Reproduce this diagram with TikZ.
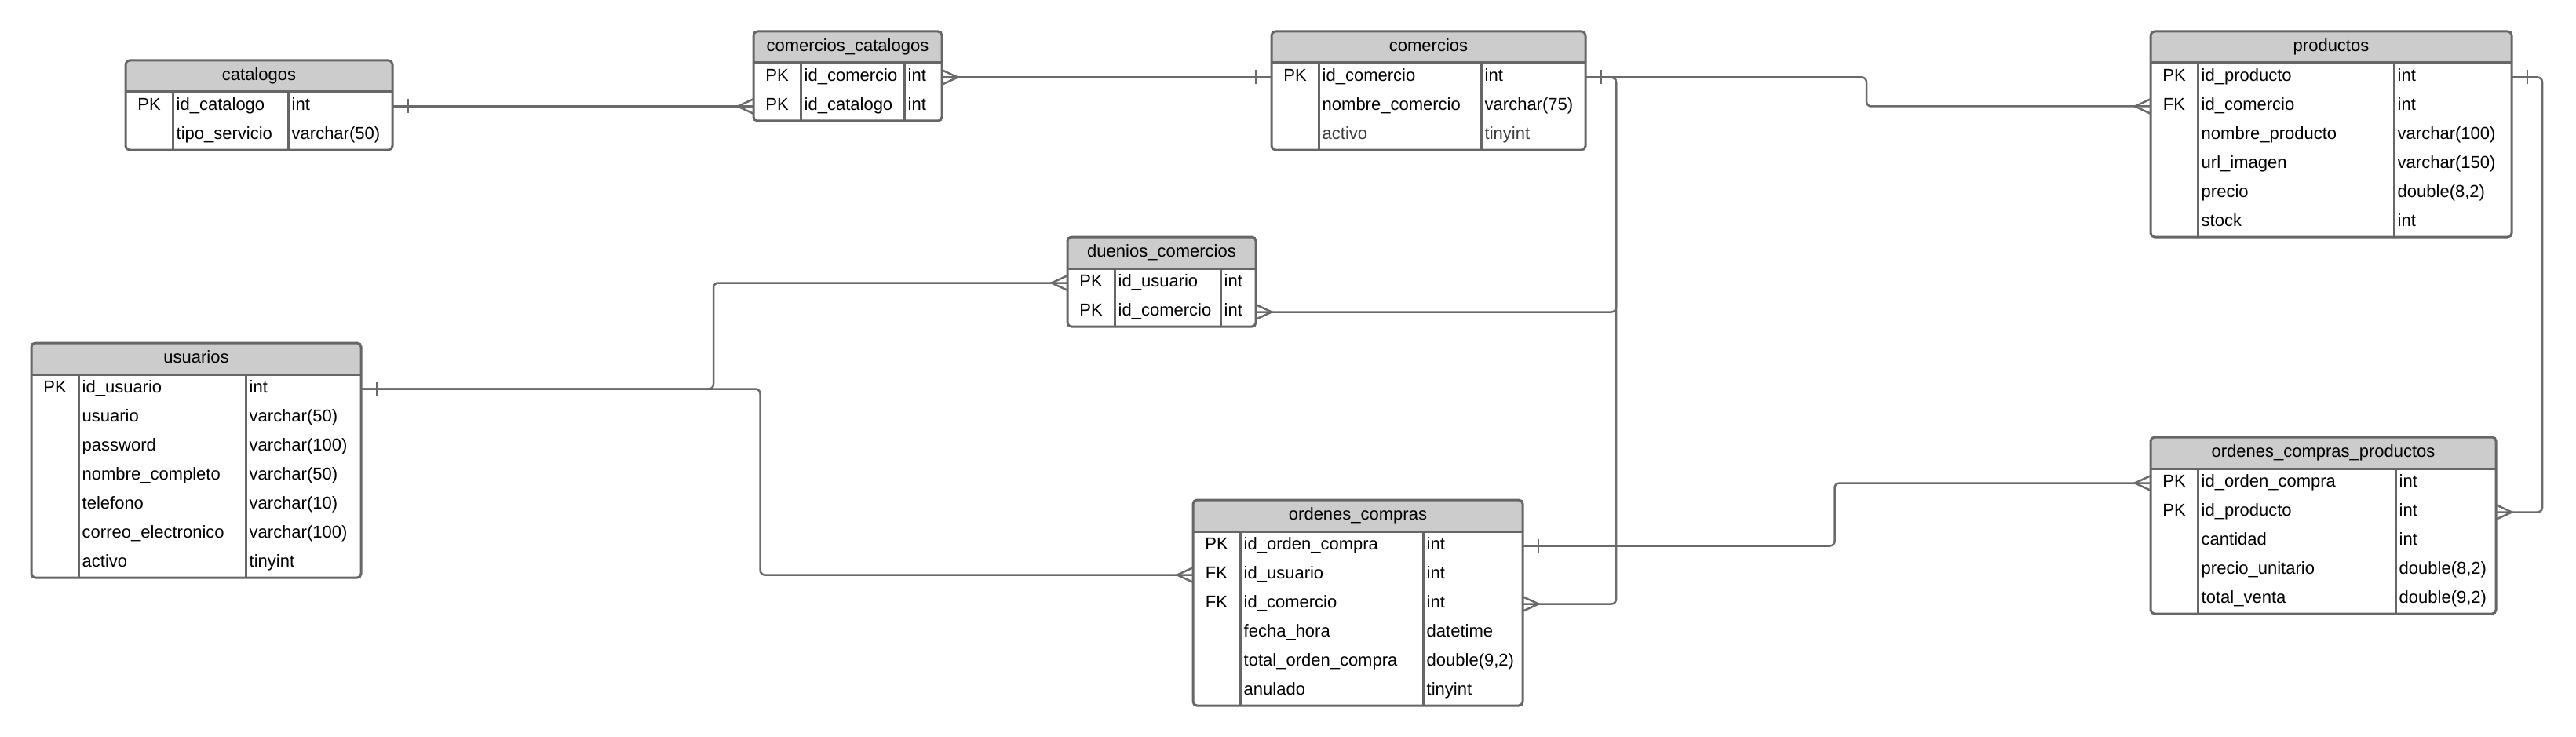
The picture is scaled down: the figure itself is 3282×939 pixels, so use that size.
\documentclass[tikz,border=0pt]{standalone}
\usepackage{fontspec}
\setmainfont{Liberation Sans}
\usetikzlibrary{calc}
\definecolor{edgec}{HTML}{666666}
\definecolor{headc}{HTML}{CCCCCC}
\definecolor{linec}{HTML}{6A6A6A}
\definecolor{dimc}{HTML}{3C3C3C}
\tikzset{
  txt/.style={inner sep=0pt, text height=15.5pt, text depth=4.6pt, font=\fontsize{22}{26}\selectfont, text=black},
  tblframe/.style={draw=edgec, line width=3pt, rounded corners=5pt, inner sep=0pt},
  tblline/.style={draw=edgec, line width=3pt},
  rowbox/.style={inner sep=0pt, minimum height=37pt},
  conn/.style={draw=linec, line width=2.5pt, rounded corners=6pt},
  tickline/.style={draw=linec, line width=2.5pt},
}
% #1 name, #2 xl, #3 xr, #4 top, #5 c1, #6 c2, #7 rows count, #8 title, #9 rows
\newcommand{\erd}[9]{%
  \pgfmathsetmacro{\tbhb}{#4+40}%
  \pgfmathsetmacro{\tbbt}{#4+40+37*#7}%
  \pgfmathsetmacro{\tbxm}{(#2+#3)/2}%
  \pgfmathsetmacro{\tbym}{(#4+\tbbt)/2}%
  \pgfmathsetmacro{\tbhm}{#4+20}%
  \pgfmathsetmacro{\tbw}{#3-#2}%
  \pgfmathsetmacro{\tbh}{\tbbt-#4}%
  \pgfmathsetmacro{\tbkx}{(#2+#5)/2}%
  \begin{scope}
    \clip[rounded corners=5pt] (#2,#4) rectangle (#3,\tbbt);
    \fill[white] (#2,#4) rectangle (#3,\tbbt);
    \fill[headc] (#2,#4) rectangle (#3,\tbhb);
  \end{scope}
  \draw[tblline] (#2,\tbhb) -- (#3,\tbhb);
  \draw[tblline] (#5,\tbhb) -- (#5,\tbbt);
  \draw[tblline] (#6,\tbhb) -- (#6,\tbbt);
  \node[tblframe, minimum width=\tbw pt, minimum height=\tbh pt] (#1) at (\tbxm,\tbym) {};
  \node[txt] (#1-title) at (\tbxm,\tbhm) {#8};
  \foreach \fk/\fn/\ft [count=\i] in {#9} {
    \pgfmathsetmacro{\tbyc}{#4+40+37*(\i-1)+18.5}
    \node[rowbox, minimum width=\tbw pt] (#1-\i) at (\tbxm,\tbyc) {};
    \node[txt] (#1-\i-key) at (\tbkx,\tbyc) {\fk};
    \node[txt, anchor=west] (#1-\i-name) at (#5+4.5,\tbyc) {\fn};
    \node[txt, anchor=west] (#1-\i-type) at (#6+4.5,\tbyc) {\ft};
  }
}
\newcommand{\onemk}[2]{\draw[tickline] ($(#1)+(#2*20,-9)$) -- ($(#1)+(#2*20,9)$);}
\newcommand{\manymk}[2]{\draw[tickline] ($(#1)+(0,-9.2)$) -- ($(#1)+(#2*20,0)$) -- ($(#1)+(0,9.2)$);}
\begin{document}
\begin{tikzpicture}[x=1pt,y=-1pt]
\useasboundingbox (0,0) rectangle (3282,939);
\fill[white] (0,0) rectangle (3282,939);

% bend coordinates
\coordinate (j3) at (2378,0);
\coordinate (j4) at (2059,0);
\coordinate (j6) at (909,0);
\coordinate (j7) at (968.5,0);
\coordinate (j8) at (2337.5,0);
\coordinate (j9) at (3239,0);

\erd{catalogos}{160}{500}{77}{220}{367}{2}{catalogos}{PK/id\_catalogo/int, {}/tipo\_servicio/varchar(50)}
\erd{cc}{960}{1200}{40}{1020}{1152}{2}{comercios\_catalogos}{PK/id\_comercio/int, PK/id\_catalogo/int}
\erd{comercios}{1620}{2020}{40}{1680}{1887}{3}{comercios}{PK/id\_comercio/int, {}/nombre\_comercio/varchar(75), {}/\textcolor{dimc}{activo}/\textcolor{dimc}{tinyint}}
\erd{productos}{2740}{3200}{40}{2800}{3050}{6}{productos}{PK/id\_producto/int, FK/id\_comercio/int, {}/nombre\_producto/varchar(100), {}/url\_imagen/varchar(150), {}/precio/{double(8,2)}, {}/stock/int}
\erd{dc}{1360}{1600}{302}{1420}{1555}{2}{duenios\_comercios}{PK/id\_usuario/int, PK/id\_comercio/int}
\erd{usuarios}{40}{460}{437}{100}{313}{7}{usuarios}{PK/id\_usuario/int, {}/usuario/varchar(50), {}/password/varchar(100), {}/nombre\_completo/varchar(50), {}/telefono/varchar(10), {}/correo\_electronico/varchar(100), {}/activo/tinyint}
\erd{oc}{1520}{1940}{637}{1580}{1813}{6}{ordenes\_compras}{PK/id\_orden\_compra/int, FK/id\_usuario/int, FK/id\_comercio/int, {}/fecha\_hora/datetime, {}/total\_orden\_compra/{double(9,2)}, {}/anulado/tinyint}
\erd{ocp}{2740}{3180}{557}{2800}{3052}{5}{ordenes\_compras\_productos}{PK/id\_orden\_compra/int, PK/id\_producto/int, {}/cantidad/int, {}/precio\_unitario/{double(8,2)}, {}/total\_venta/{double(9,2)}}

% connectors
\draw[conn] (catalogos-1.east) -- (cc-2.west);
\draw[conn] (cc-1.east) -- (comercios-1.west);
\draw[conn] (comercios-1.east) -- (comercios-1.east -| j3) |- (productos-2.west);
\draw[conn] (comercios-1.east) -- (comercios-1.east -| j4) |- (dc-2.east);
\draw[conn] (comercios-1.east) -- (comercios-1.east -| j4) |- (oc-3.east);
\draw[conn] (usuarios-1.east) -- (usuarios-1.east -| j6) |- (dc-1.west);
\draw[conn] (usuarios-1.east) -- (usuarios-1.east -| j7) |- (oc-2.west);
\draw[conn] (oc-1.east) -- (oc-1.east -| j8) |- (ocp-1.west);
\draw[conn] (productos-1.east) -- (productos-1.east -| j9) |- (ocp-2.east);

% cardinality marks
\onemk{catalogos-1.east}{1}
\manymk{cc-2.west}{-1}
\manymk{cc-1.east}{1}
\onemk{comercios-1.west}{-1}
\onemk{comercios-1.east}{1}
\manymk{productos-2.west}{-1}
\manymk{dc-2.east}{1}
\manymk{oc-3.east}{1}
\onemk{usuarios-1.east}{1}
\manymk{dc-1.west}{-1}
\manymk{oc-2.west}{-1}
\onemk{oc-1.east}{1}
\manymk{ocp-1.west}{-1}
\onemk{productos-1.east}{1}
\manymk{ocp-2.east}{1}
\end{tikzpicture}
\end{document}
